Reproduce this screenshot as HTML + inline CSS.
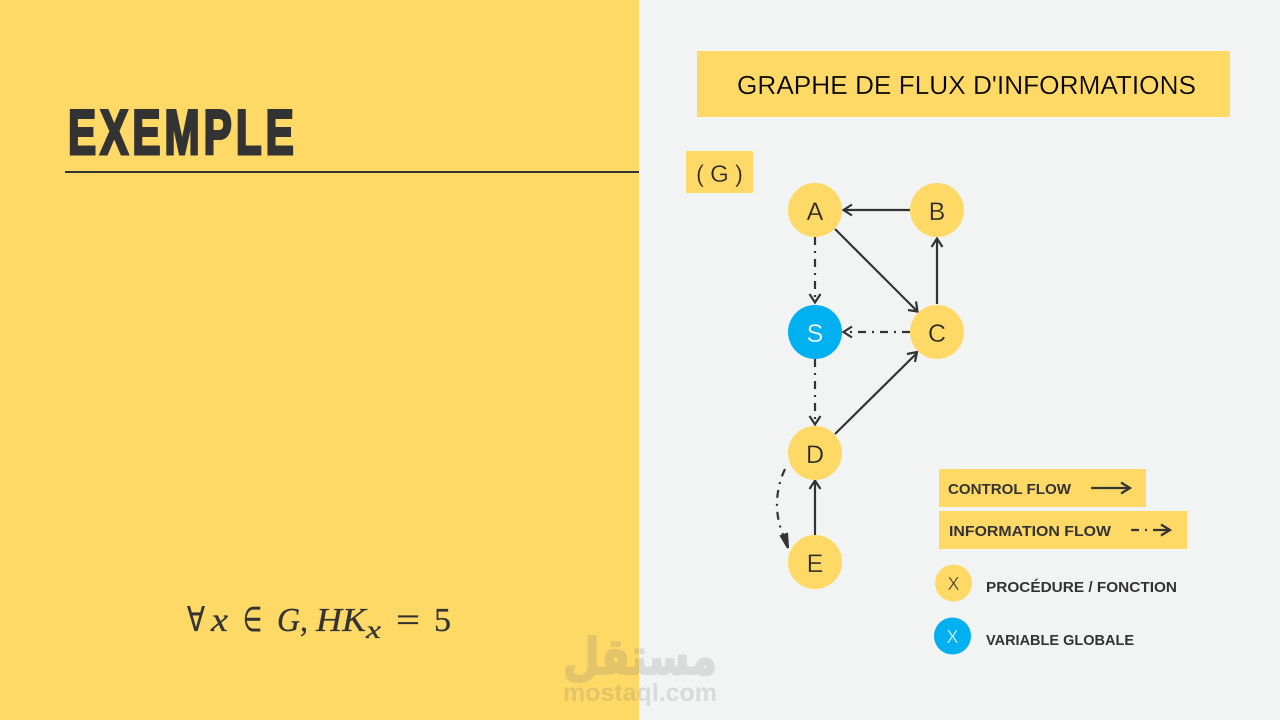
<!DOCTYPE html>
<html><head><meta charset="utf-8"><style>
html,body{margin:0;padding:0;width:1280px;height:720px;overflow:hidden;background:#f2f4f4}
svg{display:block}
.n{font-family:"Liberation Sans",sans-serif;font-size:25px;fill:#262626;text-anchor:middle;stroke:#ffd966;stroke-width:.3}
.l{font-family:"Liberation Sans",sans-serif;font-weight:bold;fill:#333;font-size:15px}
.m{font-family:"Liberation Serif",serif;font-size:34px;fill:#333;stroke:#333;stroke-width:.3}
.i{font-style:italic}
path,line{fill:none;stroke:#333;stroke-width:2.2}
.d{stroke-dasharray:8 6 2 6}
</style></head><body>
<svg width="1280" height="720" viewBox="0 0 1280 720" xmlns="http://www.w3.org/2000/svg">
<rect width="1280" height="720" fill="#f2f4f4"/>
<rect width="639" height="720" fill="#ffd966"/>
<text transform="translate(68,154) scale(.67,1)" font-family="'Liberation Sans',sans-serif" font-weight="bold" font-size="63" letter-spacing="6" fill="#333" stroke="#333" stroke-width="3">EXEMPLE</text>
<rect x="65" y="171" width="574" height="2" fill="#333"/>
<text class="m" x="187" y="631" textLength="18" lengthAdjust="spacingAndGlyphs">∀</text>
<text class="m i" x="211" y="631" textLength="17" lengthAdjust="spacingAndGlyphs">x</text>
<text class="m" x="243" y="631" textLength="19" lengthAdjust="spacingAndGlyphs">∈</text>
<text class="m i" x="277" y="631" textLength="31" lengthAdjust="spacingAndGlyphs">G,</text>
<text class="m i" x="316" y="631" textLength="50" lengthAdjust="spacingAndGlyphs">HK</text>
<text class="m i" x="366" y="638" style="font-size:25px" textLength="15" lengthAdjust="spacingAndGlyphs">x</text>
<text class="m" x="396" y="631" textLength="24" lengthAdjust="spacingAndGlyphs">=</text>
<text class="m" x="434" y="631" textLength="17" lengthAdjust="spacingAndGlyphs">5</text>
<rect x="697" y="51" width="533" height="66" fill="#ffd966"/>
<text x="737" y="94" font-family="'Liberation Sans',sans-serif" font-size="26" fill="#000" stroke="#ffd966" stroke-width=".25" textLength="459" lengthAdjust="spacingAndGlyphs">GRAPHE DE FLUX D'INFORMATIONS</text>
<rect x="686" y="151" width="67" height="42" fill="#ffd966"/>
<text x="696" y="182" font-family="'Liberation Sans',sans-serif" font-size="24" fill="#262626" stroke="#ffd966" stroke-width=".3" textLength="47" lengthAdjust="spacing">( G )</text>
<line x1="910" y1="210" x2="844" y2="210"/><path d="M852 204.500L843.500 210L852 215.500"/>
<line x1="835" y1="229" x2="917" y2="311"/><path d="M908 310L917.500 311.500L916 301.500"/>
<line x1="937" y1="304" x2="937" y2="239"/><path d="M931.500 247L937 238.500L942.500 247"/>
<line class="d" x1="815" y1="237" x2="815" y2="297"/><path d="M809.500 294L815 302.500L820.500 294"/>
<line class="d" x1="910" y1="332" x2="848" y2="332"/><path d="M852 326.500L843.500 332L852 337.500"/>
<line class="d" x1="815" y1="359" x2="815" y2="419"/><path d="M809.500 416L815 424.500L820.500 416"/>
<line x1="835" y1="434" x2="917" y2="353"/><path d="M907 354L917 352L915 362"/>
<line x1="815" y1="535" x2="815" y2="481"/><path d="M809.500 489L815 480.500L820.500 489"/>
<path class="d" d="M785 469C775 490 774 515 784 537"/><path d="M781 536L788 548L787 534Z" style="fill:#333"/>
<g fill="#ffd966">
<circle cx="815" cy="210" r="27"/><circle cx="937" cy="210" r="27"/><circle cx="937" cy="332" r="27"/><circle cx="815" cy="453" r="27"/><circle cx="815" cy="562" r="27"/>
</g>
<circle cx="815" cy="332" r="27" fill="#00b0f0"/>
<text class="n" x="815" y="220">A</text>
<text class="n" x="937" y="220">B</text>
<text class="n" x="815" y="342" style="fill:#fff;stroke:#00b0f0">S</text>
<text class="n" x="937" y="342">C</text>
<text class="n" x="815" y="463">D</text>
<text class="n" x="815" y="572">E</text>
<rect x="939" y="469" width="207" height="38" fill="#ffd966"/>
<rect x="939" y="511" width="248" height="38" fill="#ffd966"/>
<text class="l" x="948" y="494" textLength="123" lengthAdjust="spacingAndGlyphs">CONTROL FLOW</text>
<text class="l" x="949" y="536" textLength="162" lengthAdjust="spacingAndGlyphs">INFORMATION FLOW</text>
<line x1="1091" y1="488" x2="1129" y2="488"/><path d="M1121 482.500L1130 488L1121 493.500"/>
<line x1="1131" y1="530" x2="1169" y2="530" style="stroke-dasharray:8 6 2 6 20"/><path d="M1161 524.500L1170 530L1161 535.500"/>
<circle cx="953.500" cy="583" r="18.500" fill="#ffd966"/>
<circle cx="952.500" cy="636" r="18.500" fill="#00b0f0"/>
<text x="953.500" y="590" text-anchor="middle" font-family="'Liberation Sans',sans-serif" font-size="18" fill="#333" stroke="#ffd966" stroke-width=".4">X</text>
<text x="952.500" y="643" text-anchor="middle" font-family="'Liberation Sans',sans-serif" font-size="18" fill="#fff" stroke="#00b0f0" stroke-width=".4">X</text>
<text class="l" x="986" y="592" textLength="191" lengthAdjust="spacingAndGlyphs">PROCÉDURE / FONCTION</text>
<text class="l" x="986" y="645" textLength="148" lengthAdjust="spacingAndGlyphs">VARIABLE GLOBALE</text>
<g opacity=".2">
<text x="640" y="674" text-anchor="middle" direction="rtl" font-family="'DejaVu Sans',sans-serif" font-weight="bold" font-size="50" fill="#777" stroke="#777" stroke-width="2" textLength="154" lengthAdjust="spacingAndGlyphs">مستقل</text>
<text x="563" y="701" font-family="'Liberation Sans',sans-serif" font-weight="bold" font-size="25" fill="#777" textLength="154" lengthAdjust="spacingAndGlyphs">mostaql.com</text>
</g>
</svg>
</body></html>
